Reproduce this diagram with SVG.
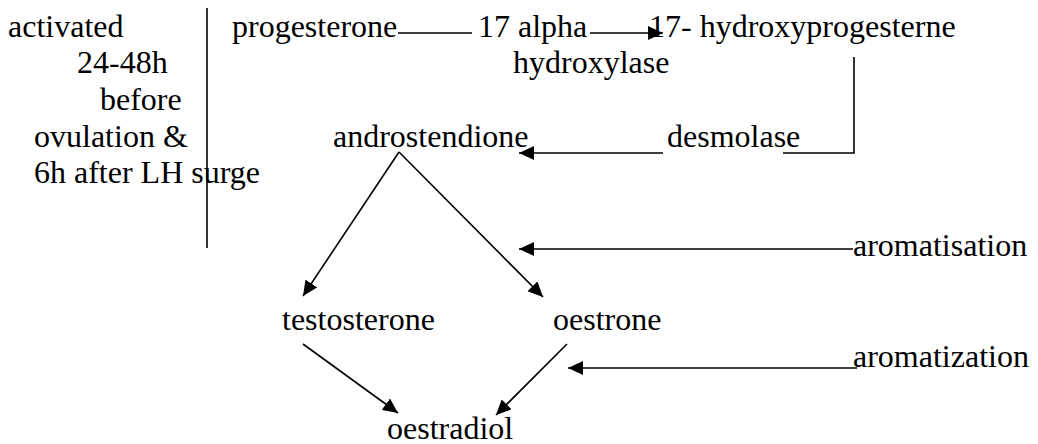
<svg xmlns="http://www.w3.org/2000/svg" width="1038" height="444" viewBox="0 0 1038 444">
  <defs>
    <marker id="head" markerUnits="userSpaceOnUse" markerWidth="16" markerHeight="14" refX="15" refY="7" orient="auto">
      <path d="M0,0 L15,7 L0,14 Z" fill="#000"/>
    </marker>
  </defs>
  <rect width="1038" height="444" fill="#fff"/>

  <!-- timing note, left column -->
  <g id="note">
    <text x="8" y="37" style="font-family: 'Liberation Serif', serif; font-size: 32px">activated</text>
    <text x="77" y="73" style="font-family: 'Liberation Serif', serif; font-size: 32px">24-48h</text>
    <text x="100" y="110" style="font-family: 'Liberation Serif', serif; font-size: 32px">before</text>
    <text x="34" y="147" style="font-family: 'Liberation Serif', serif; font-size: 32px">ovulation &amp;</text>
    <text x="34" y="183" style="font-family: 'Liberation Serif', serif; font-size: 32px">6h after LH surge</text>
  </g>

  <g id="progesterone"><text x="232" y="37" style="font-family: 'Liberation Serif', serif; font-size: 32px">progesterone</text></g>
  <g id="hydroxylase">
    <text x="478" y="37" style="font-family: 'Liberation Serif', serif; font-size: 32px">17 alpha</text>
    <text x="513" y="73" style="font-family: 'Liberation Serif', serif; font-size: 32px">hydroxylase</text>
  </g>
  <g id="hydroxyprogesterone"><text x="649" y="37" style="font-family: 'Liberation Serif', serif; font-size: 32px">17- hydroxyprogesterne</text></g>
  <g id="desmolase"><text x="667" y="147" style="font-family: 'Liberation Serif', serif; font-size: 32px">desmolase</text></g>
  <g id="androstendione"><text x="333" y="147" style="font-family: 'Liberation Serif', serif; font-size: 32px">androstendione</text></g>
  <g id="testosterone"><text x="282" y="330" style="font-family: 'Liberation Serif', serif; font-size: 32px">testosterone</text></g>
  <g id="oestrone"><text x="553" y="330" style="font-family: 'Liberation Serif', serif; font-size: 32px">oestrone</text></g>
  <g id="oestradiol"><text x="387" y="439" style="font-family: 'Liberation Serif', serif; font-size: 32px">oestradiol</text></g>
  <g id="aromatisation"><text x="853" y="256" style="font-family: 'Liberation Serif', serif; font-size: 32px">aromatisation</text></g>
  <g id="aromatization"><text x="853" y="367" style="font-family: 'Liberation Serif', serif; font-size: 32px">aromatization</text></g>

  <g id="connectors" stroke="#000" stroke-width="1.6" fill="none">
    <line x1="207" y1="8" x2="207" y2="248"/>
    <line x1="398" y1="33" x2="472" y2="33"/>
    <line x1="590" y1="33" x2="663" y2="33" marker-end="url(#head)"/>
    <polyline points="854,57 854,153 783,153"/>
    <line x1="663" y1="153" x2="519" y2="153" marker-end="url(#head)"/>
    <line x1="399" y1="152" x2="303" y2="296" marker-end="url(#head)"/>
    <line x1="399" y1="152" x2="543" y2="297" marker-end="url(#head)"/>
    <line x1="853" y1="249" x2="519" y2="249" marker-end="url(#head)"/>
    <line x1="303" y1="344" x2="398" y2="413" marker-end="url(#head)"/>
    <line x1="567" y1="344" x2="496" y2="415" marker-end="url(#head)"/>
    <line x1="857" y1="368" x2="568" y2="368" marker-end="url(#head)"/>
  </g>
</svg>
